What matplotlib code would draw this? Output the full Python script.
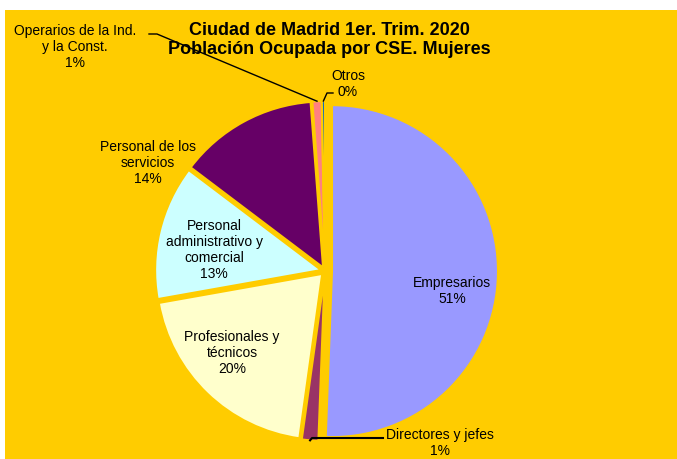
import numpy as np
import matplotlib.pyplot as plt
from matplotlib.patches import Rectangle

plt.rcParams['font.family'] = ['Liberation Sans', 'DejaVu Sans']

# datos (porcentaje aprox.)
categorias = ['Empresarios', 'Directores y jefes', 'Profesionales y\ntécnicos',
              'Personal\nadministrativo y\ncomercial', 'Personal de los\nservicios',
              'Operarios de la Ind.\ny la Const.', 'Otros']
valores = [50.6, 1.6, 20.0, 13.1, 13.5, 0.9, 0.3]
etiquetas_pct = ['51%', '1%', '20%', '13%', '14%', '1%', '0%']
colores = ['#9999FF', '#993366', '#FFFFCC', '#CCFFFF', '#660066', '#FF8080', '#0066CC']

W, H = 677, 459
fig = plt.figure(figsize=(W / 100, H / 100), dpi=100, facecolor='white')
ax = fig.add_axes([0, 0, 1, 1])

gold = '#FFCC00'
ax.add_patch(Rectangle((5, 0), W - 5, H - 10, facecolor=gold, edgecolor='none', zorder=0))

# explode va en unidades de datos (pixeles aqui)
wedges, _ = ax.pie(valores, colors=colores, startangle=90, counterclock=False,
                   center=(325, H - 271), radius=166, explode=[7, 4, 4, 4, 4, 4, 4],
                   wedgeprops=dict(edgecolor=gold, linewidth=1.5), frame=True)
ax.set_xlim(0, W)
ax.set_ylim(0, H)
ax.set_aspect('equal')
ax.axis('off')

ax.text(329, H - 40, 'Ciudad de Madrid 1er. Trim. 2020\nPoblación Ocupada por CSE. Mujeres',
        ha='center', va='center', fontsize=13, fontweight='bold', linespacing=1.1)

def punto_borde(w, frac=1.0):
    ang = np.deg2rad((w.theta1 + w.theta2) / 2)
    cx, cy = w.center
    return cx + frac * w.r * np.cos(ang), cy + frac * w.r * np.sin(ang)

fs = 10
# etiquetas dentro
dentro = {0: (452, 291), 2: (232, 353), 3: (214, 250)}
for i, (x, y) in dentro.items():
    ax.text(x, H - y, categorias[i] + '\n' + etiquetas_pct[i], ha='center', va='center',
            fontsize=fs, linespacing=1.2)

# personal de los servicios, fuera sin linea
ax.text(148, H - 163, categorias[4] + '\n' + etiquetas_pct[4], ha='center', va='center',
        fontsize=fs, linespacing=1.2)

# etiquetas con linea guia
ax.text(75, H - 47, categorias[5] + '\n' + etiquetas_pct[5], ha='center', va='center',
        fontsize=fs, linespacing=1.2)
x1, y1 = punto_borde(wedges[5])
ax.plot([149, 157, x1], [H - 34, H - 34, y1], color='black', lw=1)

ax.text(348, H - 84, categorias[6] + '\n' + etiquetas_pct[6], ha='center', va='center',
        fontsize=fs, linespacing=1.2)
x1, y1 = punto_borde(wedges[6])
ax.plot([333, 327, x1], [H - 93, H - 93, y1], color='black', lw=1)

ax.text(440, H - 443, categorias[1] + '\n' + etiquetas_pct[1], ha='center', va='center',
        fontsize=fs, linespacing=1.2)
x1, y1 = punto_borde(wedges[1])
ax.plot([383, 312, x1], [H - 438, H - 438, y1], color='black', lw=1.5)

fig.savefig('out.png', dpi=100, facecolor='white')
